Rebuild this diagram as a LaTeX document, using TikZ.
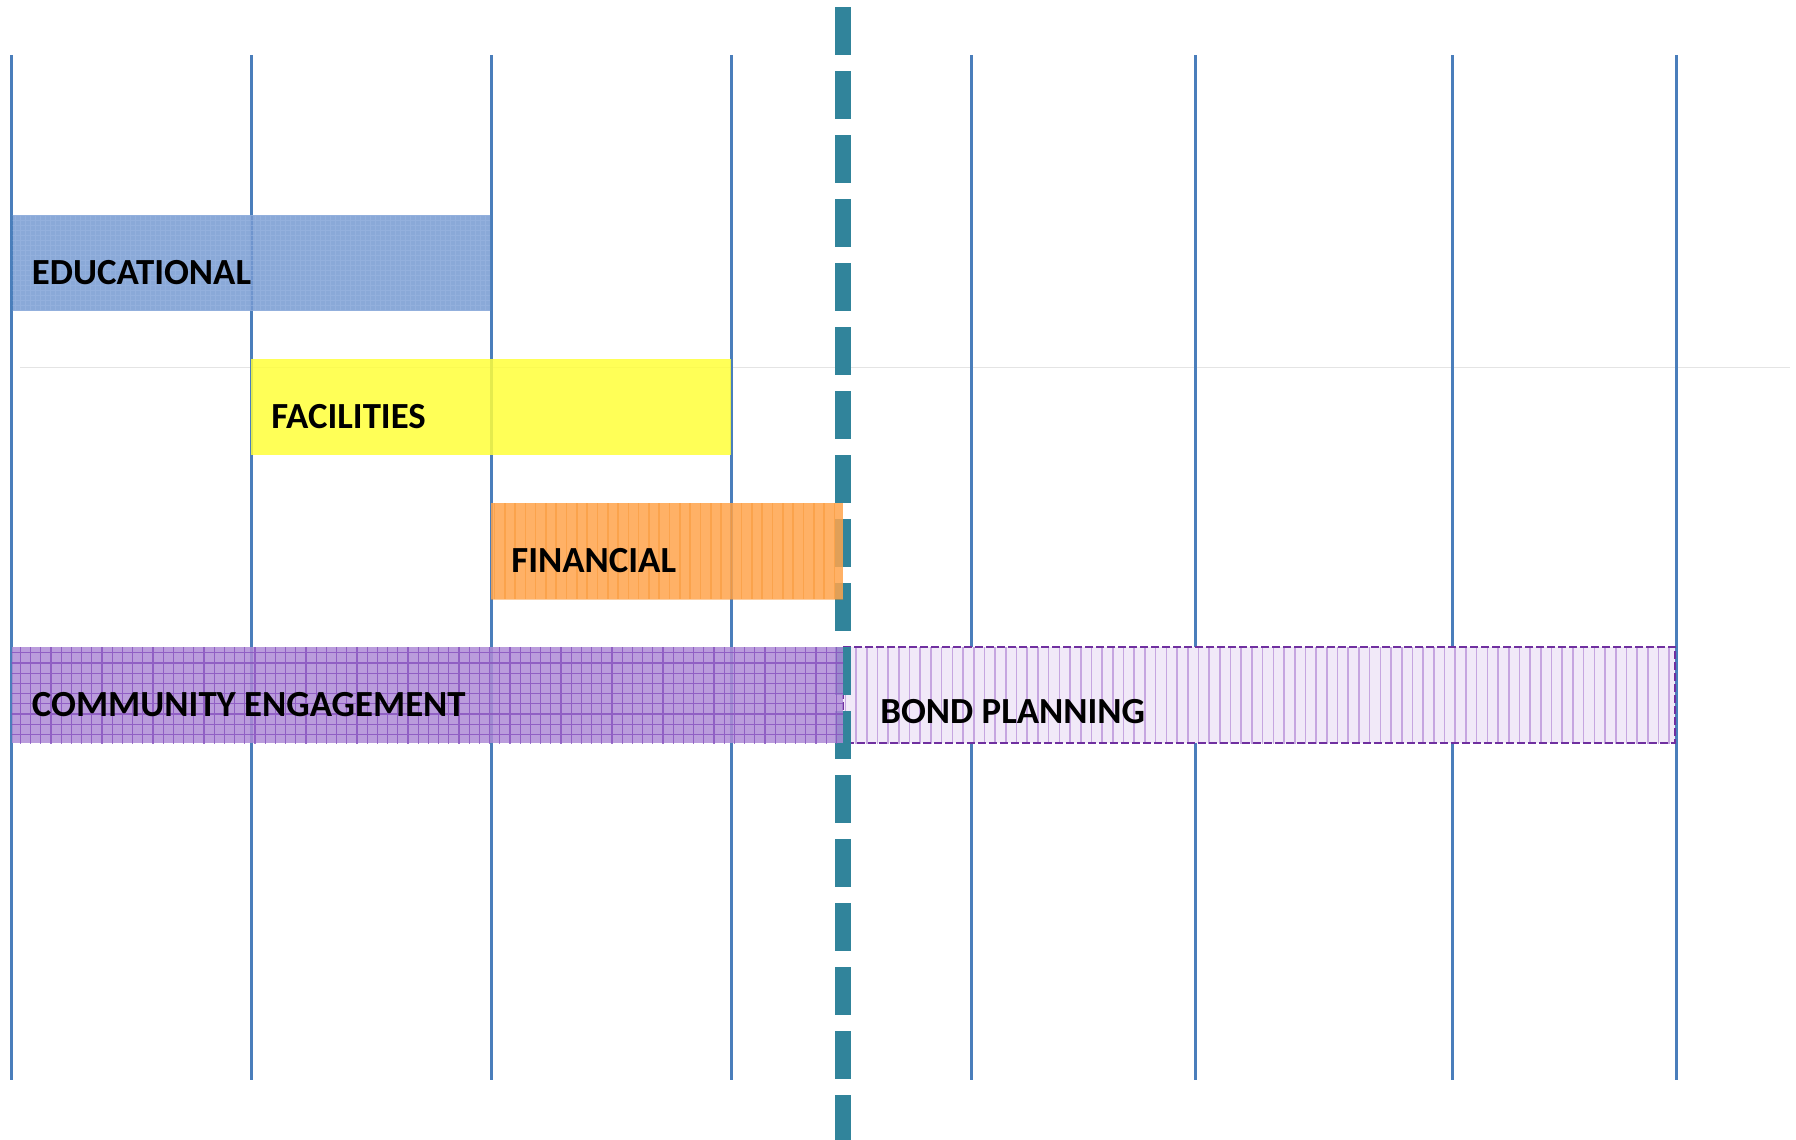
\documentclass[tikz,border=0pt]{standalone}
\usepackage{fontspec}
\setmainfont{Carlito}
\definecolor{gridblue}{HTML}{4A7EBB}
\definecolor{milestone}{HTML}{31849B}
\definecolor{eduC}{HTML}{769AD2}
\definecolor{eduL}{HTML}{9DB8E2}
\definecolor{facC}{HTML}{FFFF3A}
\definecolor{finC}{HTML}{FFA44C}
\definecolor{finL}{HTML}{F7922E}
\definecolor{comC}{HTML}{AE8BD6}
\definecolor{comL}{HTML}{8650BE}
\definecolor{bondC}{HTML}{F1E9F8}
\definecolor{bondL}{HTML}{C6A6E0}
\definecolor{bondB}{HTML}{7030A0}
\definecolor{sepgray}{HTML}{E4E4E4}
\tikzset{
  vline/.style={draw=gridblue, line width=1.5pt},
  barlabel/.style={anchor=base west, inner sep=0pt, text=black,
    font=\fontsize{18.4}{20}\selectfont\bfseries},
  barfill/.style={fill opacity=0.85}
}
\begin{document}
\begin{tikzpicture}[x=0.5pt, y=-0.5pt]
\useasboundingbox (0,0) rectangle (1796,1140);
\fill[white] (0,0) rectangle (1796,1140);
% thin separator
\coordinate (sepL) at (20,367);
\coordinate (sepR) at (1790,367);
\draw[sepgray, line width=0.5pt] (sepL) -- (sepR);
% vertical grid lines
\foreach \i/\x in {1/11.5,2/251.4,3/491.5,4/731.5,5/971.5,6/1195,7/1452,8/1676}{
  \coordinate (t\i) at (\x,55);
  \coordinate (b\i) at (\x,1080);
  \draw[vline] (t\i) -- (b\i);
}
% BOND PLANNING box (below the milestone line)
\fill[bondC] (843,647) rectangle (1675,743);
\begin{scope}
\clip (843,647) rectangle (1675,743);
\draw[bondL, line width=0.8pt, xstep=5.35pt, ystep=100pt] (840,640) grid (1680,750);
\end{scope}
\draw[bondB, line width=1.2pt, dash pattern=on 4pt off 1.5pt] (843,647) rectangle (1675,743);
% milestone dashed line
\coordinate (msT) at (843,7);
\coordinate (msB) at (843,1140);
\draw[milestone, line width=8pt, dash pattern=on 24pt off 8pt] (msT) -- (msB);
% EDUCATIONAL
\fill[eduC, barfill] (12.6,215) rectangle (490,310.7);
\begin{scope}
\clip (12.6,215) rectangle (490,310.7);
\draw[eduL, line width=0.35pt, opacity=0.5, step=2.5pt] (0,200) grid (500,320);
\end{scope}
% FACILITIES
\fill[facC, barfill] (251.4,359) rectangle (731,455);
% FINANCIAL
\fill[finC, barfill] (491,503) rectangle (843,599);
\begin{scope}
\clip (491,503) rectangle (843,599);
\draw[finL, line width=0.8pt, opacity=0.45, xstep=5.15pt, ystep=100pt] (480,500) grid (850,600);
\end{scope}
% COMMUNITY ENGAGEMENT
\fill[comC, barfill] (11.5,647) rectangle (843,743);
\begin{scope}
\clip (11.5,647) rectangle (843,743);
\draw[comL, line width=0.6pt, opacity=0.8, step=5.1pt] (0,640) grid (850,750);
\end{scope}
% labels
\node[barlabel] (edu) at (31.6,284) {EDUCATIONAL};
\node[barlabel] (fac) at (271,428) {FACILITIES};
\node[barlabel] (fin) at (511,572) {FINANCIAL};
\node[barlabel] (com) at (31.6,716) {COMMUNITY ENGAGEMENT};
\node[barlabel] (bond) at (880,723) {BOND PLANNING};
\end{tikzpicture}
\end{document}
